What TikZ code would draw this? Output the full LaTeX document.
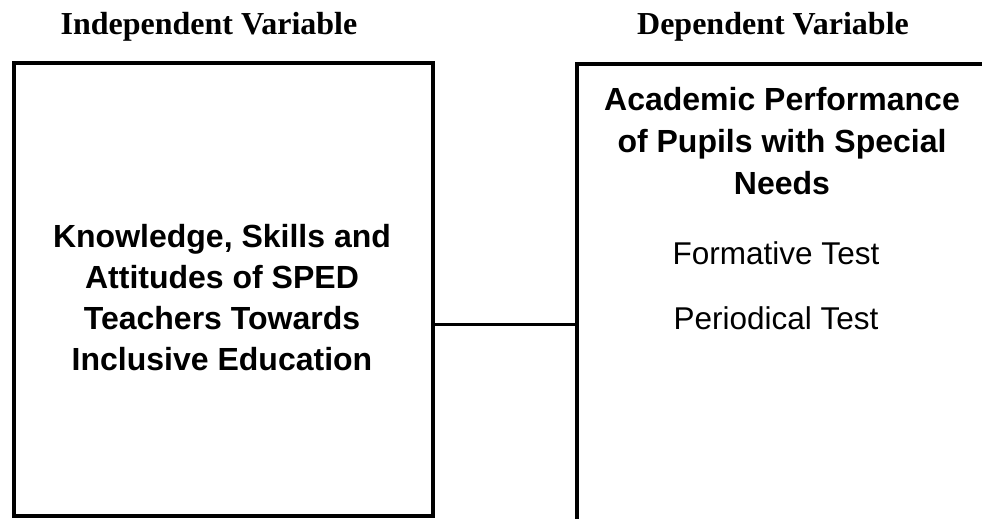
\documentclass[tikz,border=0pt]{standalone}
\usepackage{fontspec}
\setmainfont{Liberation Serif}
\setsansfont{Liberation Sans}
\begin{document}
\begin{tikzpicture}[x=1pt,y=-1pt,
  box/.style={draw=black,line width=4pt,rectangle,inner sep=0pt,anchor=north west},
  head/.style={font=\fontsize{32}{36}\selectfont\rmfamily\bfseries,anchor=base,inner sep=0pt},
  btxt/.style={font=\fontsize{32}{41}\selectfont\sffamily\bfseries,anchor=base,inner sep=0pt},
  rtxt/.style={font=\fontsize{31.5}{41}\selectfont\sffamily,anchor=base,inner sep=0pt},
  link/.style={draw=black,line width=3pt}]
\useasboundingbox (0,0) rectangle (982,519);
% headers
\node[head] (hind) at (209,35) {Independent Variable};
\node[head] (hdep) at (773,35) {Dependent Variable};
% boxes
\node[box,minimum width=419pt,minimum height=453pt] (lbox) at (12,61) {};
\node[box,minimum width=419pt,minimum height=460pt] (rbox) at (575,62) {};
% left text
\node[btxt] (l1) at (222,247) {Knowledge, Skills and};
\node[btxt] (l2) at (222,288) {Attitudes of SPED};
\node[btxt] (l3) at (222,329) {Teachers Towards};
\node[btxt] (l4) at (222,370) {Inclusive Education};
% right text
\node[btxt] (r1) at (782,110) {Academic Performance};
\node[btxt] (r2) at (782,152) {of Pupils with Special};
\node[btxt] (r3) at (782,194) {Needs};
\node[rtxt] (r4) at (776,264) {Formative Test};
\node[rtxt] (r5) at (776,329) {Periodical Test};
% connector
\coordinate (cy) at (0,324);
\draw[link] (lbox.east |- cy) -- (rbox.west |- cy);
\end{tikzpicture}
\end{document}
